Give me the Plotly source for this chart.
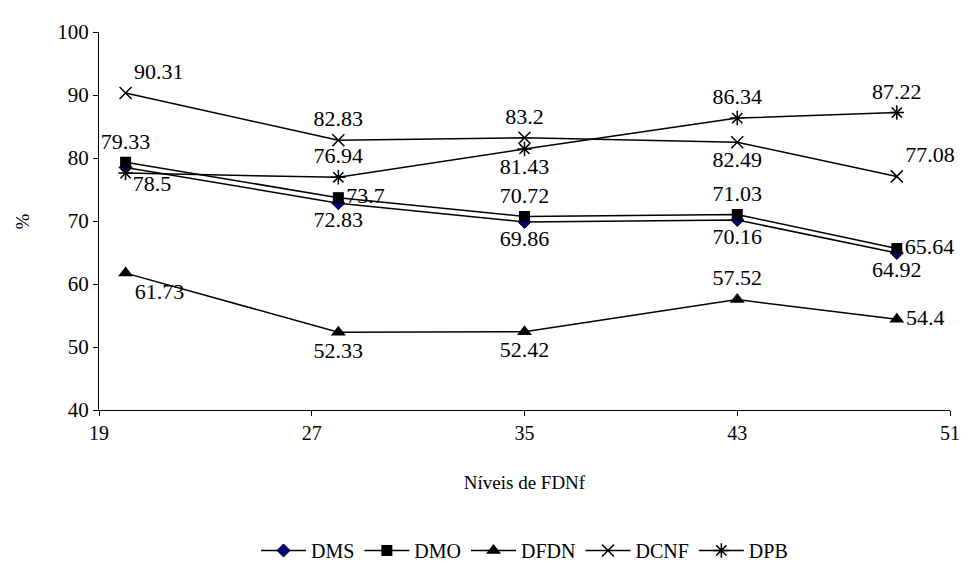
import plotly.graph_objects as go

x_levels = [20, 28, 35, 43, 49]
dms = [78.5, 72.83, 69.86, 70.16, 64.92]
dmo = [79.33, 73.7, 70.72, 71.03, 65.64]
dfdn = [61.73, 52.33, 52.42, 57.52, 54.4]
dcnf = [90.31, 82.83, 83.2, 82.49, 77.08]
dpb = [77.6, 76.94, 81.43, 86.34, 87.22]

def labels(vals, skip=()):
    return ["" if i in skip else f"{v:g}" for i, v in enumerate(vals)]

FONT = "Liberation Serif, Times New Roman, serif"
fig = go.Figure()

series = [
    ("DMS", dms, dict(symbol="diamond", size=10, color="#000080", line=dict(color="black", width=1)),
     ["bottom right", "bottom center", "bottom center", "bottom center", "bottom center"], ()),
    ("DMO", dmo, dict(symbol="square", size=11, color="black"),
     ["top center", "middle right", "top center", "top center", "middle right"], ()),
    ("DFDN", dfdn, dict(symbol="triangle-up", size=13, color="black"),
     ["bottom right", "bottom center", "bottom center", "top center", "middle right"], ()),
    ("DCNF", dcnf, dict(symbol="x-thin-open", size=12, color="black", line=dict(color="black", width=1.5)),
     ["top right", "top center", "top center", "bottom center", "top right"], ()),
    ("DPB", dpb, dict(symbol="asterisk-open", size=12, color="black", line=dict(color="black", width=1.5)),
     ["top center", "top center", "bottom center", "top center", "top center"], (0,)),
]

for name, vals, marker, pos, skip in series:
    fig.add_trace(go.Scatter(
        x=x_levels, y=vals, name=name, mode="lines+markers+text",
        line=dict(color="black", width=1.5), marker=marker,
        text=labels(vals, skip), textposition=pos,
        textfont=dict(family=FONT, size=22, color="black"),
        cliponaxis=False,
    ))

fig.update_layout(
    width=970, height=568,
    margin=dict(l=99, r=20, t=32, b=158, autoexpand=False),
    paper_bgcolor="white", plot_bgcolor="white",
    font=dict(family=FONT, size=18, color="black"),
    showlegend=True,
    legend=dict(orientation="h", x=0.5, xanchor="center", y=-0.32, yanchor="top",
                font=dict(family=FONT, size=20, color="black"), itemwidth=45),
    annotations=[dict(text="%", xref="paper", yref="paper", x=-0.09, y=0.5,
                      xanchor="center", yanchor="middle", textangle=-90, showarrow=False,
                      font=dict(family=FONT, size=19, color="black"))],
)
fig.update_xaxes(range=[19, 51], tickvals=[19, 27, 35, 43, 51], showgrid=False, zeroline=False,
                 showline=True, linecolor="black", linewidth=1, ticks="outside", ticklen=5,
                 tickcolor="black", tickfont=dict(family=FONT, size=20), automargin=False,
                 title=dict(text="Níveis de FDNf", font=dict(family=FONT, size=19), standoff=32))
fig.update_yaxes(range=[40, 100], tickvals=[40, 50, 60, 70, 80, 90, 100], showgrid=False, zeroline=False,
                 showline=True, linecolor="black", linewidth=1, ticks="outside", ticklen=5,
                 tickcolor="black", tickfont=dict(family=FONT, size=21), automargin=False)

fig.write_html("out.html")
